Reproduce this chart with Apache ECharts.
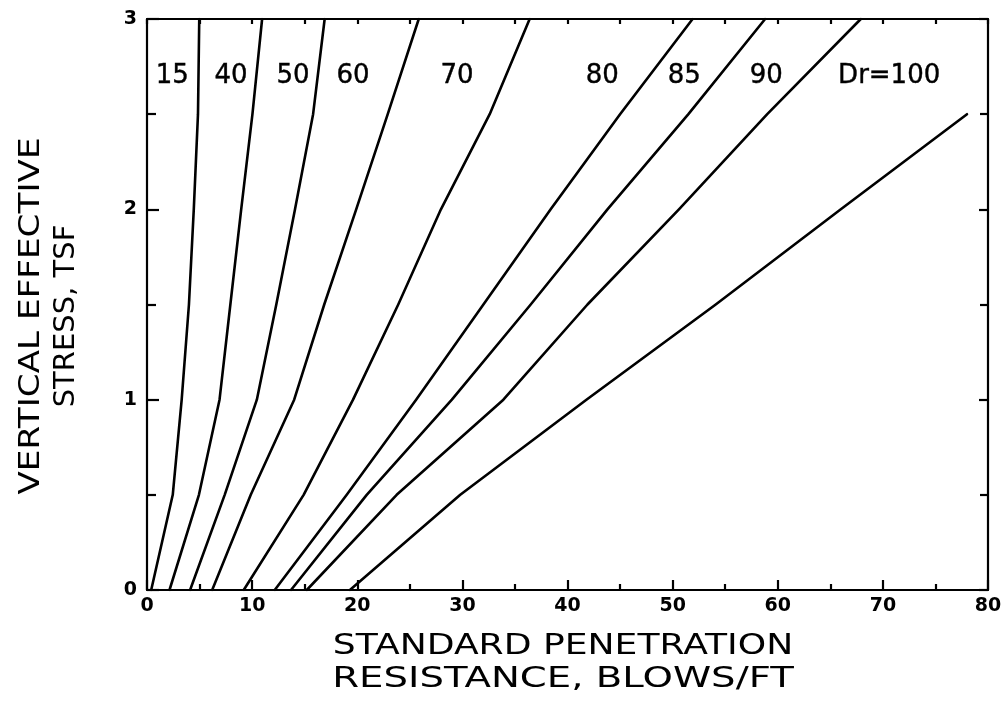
<!DOCTYPE html>
<html>
<head>
<meta charset="utf-8">
<script src="https://cdn.jsdelivr.net/npm/echarts@6/dist/echarts.min.js"></script>
<style>
html,body{margin:0;padding:0;background:#fff;}
#chart{width:1005px;height:704px;}
</style>
</head>
<body>
<div id="chart"></div>
<script>
// Vertical effective stress levels (TSF)
var stressLevels = [0, 0.5, 1.0, 1.5, 2.0, 2.5, 3.0];
// Blow counts N for each relative density curve, at the stress levels above
var dr15  = [0.4, 2.45, 3.3, 3.99, 4.45, 4.85, 4.97];
var dr40  = [2.14, 4.94, 6.9, 7.93, 8.96, 10.03, 10.95];
var dr50  = [4.1, 7.39, 10.45, 12.3, 14.08, 15.8, 16.9];
var dr60  = [6.2, 9.87, 14.0, 16.86, 19.9, 22.9, 25.85];
var dr70  = [9.2, 14.9, 19.6, 23.9, 27.96, 32.6, 36.4];
var dr80  = [12.15, 19.0, 25.6, 32.0, 38.4, 45.0, 51.9];
var dr85  = [13.7, 20.9, 29.0, 36.5, 43.8, 51.5, 58.8];
var dr90  = [15.2, 23.75, 33.9, 41.9, 50.6, 59.0, 67.9];
var dr100 = [19.3, 29.8, 41.8, 54.1, 66.0, 78.0];
var curveNames = ['15', '40', '50', '60', '70', '80', '85', '90', '100'];
var curves = [dr15, dr40, dr50, dr60, dr70, dr80, dr85, dr90, dr100];
// Curve labels and their anchor points in data coordinates
var labelTexts = ['15', '40', '50', '60', '70', '80', '85', '90', 'Dr=100'];
var labelN     = [2.4, 8.0, 13.9, 19.6, 29.5, 43.3, 51.1, 58.9, 70.6];
var labelS     = [2.7, 2.7, 2.7, 2.7, 2.7, 2.7, 2.7, 2.7, 2.7];
// Axis tick labels
var xTicks = [0, 10, 20, 30, 40, 50, 60, 70, 80];
var yTicks = [0, 1, 2, 3];

var FONT = 'DejaVu Sans';
var chart = echarts.init(document.getElementById('chart'), null, {renderer: 'canvas'});

var series = curves.map(function (xs, i) {
  return {
    name: 'Dr=' + curveNames[i],
    type: 'line',
    data: xs.map(function (x, j) { return [x, stressLevels[j]]; }),
    showSymbol: false,
    symbol: 'none',
    lineStyle: {color: '#000', width: 2.6, join: 'round', cap: 'round'},
    silent: true,
    animation: false,
    z: 3
  };
});
series.push({
  type: 'scatter',
  symbolSize: 0,
  itemStyle: {opacity: 1, color: '#000'},
  data: labelTexts.map(function (t, i) { return {name: t, value: [labelN[i], labelS[i]]}; }),
  label: {
    show: true, position: 'inside', formatter: '{b}', opacity: 1,
    color: '#000', fontFamily: FONT, fontSize: 26, fontWeight: 500,
    textBorderColor: '#000', textBorderWidth: 0.4
  },
  silent: true,
  animation: false,
  z: 5
});

var lineStyle = {color: '#000', width: 2.2};
var tickFont = {color: '#000', fontFamily: FONT, fontSize: 19, fontWeight: 'bold'};

var option = {
  backgroundColor: '#fff',
  animation: false,
  grid: {left: 147, right: 17, top: 19, bottom: 114},
  xAxis: [{
    type: 'value', position: 'bottom', min: xTicks[0], max: xTicks[xTicks.length - 1], interval: 10,
    axisLine: {show: true, onZero: false, lineStyle: lineStyle},
    axisTick: {show: true, inside: true, length: 10, lineStyle: lineStyle},
    minorTick: {show: true, splitNumber: 2, length: 6, lineStyle: lineStyle},
    axisLabel: Object.assign({show: true, margin: 7, formatter: function (v) { return xTicks.indexOf(v) >= 0 ? String(v) : ''; }}, tickFont),
    splitLine: {show: false}
  }, {
    type: 'value', position: 'top', min: xTicks[0], max: xTicks[xTicks.length - 1], interval: 10,
    axisLine: {show: true, onZero: false, lineStyle: lineStyle},
    axisTick: {show: true, inside: true, length: 5, lineStyle: lineStyle},
    minorTick: {show: true, splitNumber: 2, length: 5, lineStyle: lineStyle},
    axisLabel: {show: false},
    splitLine: {show: false}
  }],
  yAxis: [{
    type: 'value', position: 'left', min: yTicks[0], max: yTicks[yTicks.length - 1], interval: 1,
    axisLine: {show: true, onZero: false, lineStyle: lineStyle},
    axisTick: {show: true, inside: true, length: 12, lineStyle: lineStyle},
    minorTick: {show: true, splitNumber: 2, length: 9, lineStyle: lineStyle},
    axisLabel: Object.assign({show: true, margin: 10, formatter: function (v) { return yTicks.indexOf(v) >= 0 ? String(v) : ''; }}, tickFont),
    splitLine: {show: false}
  }, {
    type: 'value', position: 'right', min: yTicks[0], max: yTicks[yTicks.length - 1], interval: 1,
    axisLine: {show: true, onZero: false, lineStyle: lineStyle},
    axisTick: {show: true, inside: true, length: 9, lineStyle: lineStyle},
    minorTick: {show: true, splitNumber: 2, length: 8, lineStyle: lineStyle},
    axisLabel: {show: false},
    splitLine: {show: false}
  }],
  graphic: [
    {type: 'text', x: 563, y: 647, scaleX: 1.29, style: {text: 'STANDARD PENETRATION', fill: '#000', font: 'normal 28px "DejaVu Sans"', align: 'center', verticalAlign: 'middle'}},
    {type: 'text', x: 563, y: 680, scaleX: 1.38, style: {text: 'RESISTANCE, BLOWS/FT', fill: '#000', font: 'normal 28px "DejaVu Sans"', align: 'center', verticalAlign: 'middle'}},
    {type: 'text', x: 31, y: 316, rotation: Math.PI / 2, scaleX: 1.18, style: {text: 'VERTICAL EFFECTIVE', fill: '#000', font: 'normal 29px "DejaVu Sans"', align: 'center', verticalAlign: 'middle'}},
    {type: 'text', x: 66, y: 316, rotation: Math.PI / 2, scaleX: 1.0, style: {text: 'STRESS, TSF', fill: '#000', font: 'normal 29px "DejaVu Sans"', align: 'center', verticalAlign: 'middle'}}
  ],
  series: series
};
chart.setOption(option);
</script>
</body>
</html>
